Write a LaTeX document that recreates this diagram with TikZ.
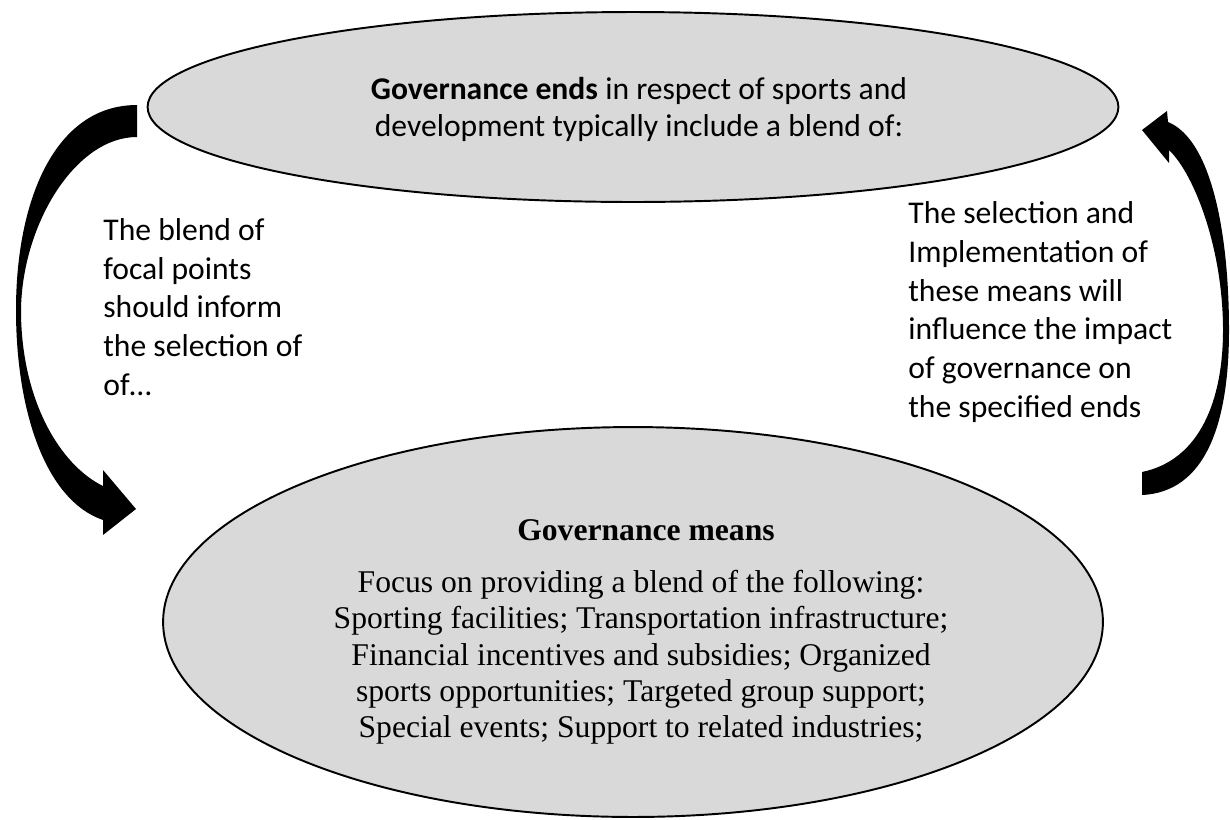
\documentclass[tikz,border=0pt]{standalone}
\usepackage{fontspec}
\setmainfont{Carlito}
\newfontfamily\serifblend{Liberation Serif}
\usepackage{tikz}
\usetikzlibrary{positioning}
\usetikzlibrary{shapes.geometric}

\definecolor{blobgray}{HTML}{D9D9D9}

\tikzset{
  blob/.style={ellipse, draw=black, fill=blobgray, line width=1.1pt, inner sep=0pt},
  note/.style={align=left, inner sep=0pt, font=\fontsize{18pt}{22pt}\selectfont},
  bigarrow/.style={fill=black, draw=none}
}

\begin{document}
\begin{tikzpicture}[x=0.02cm, y=-0.02cm]
  \useasboundingbox (0,0) rectangle (1230,819);

  \node[blob, minimum width=19.42cm, minimum height=3.8cm] (ends) at (633,107) {};
  \node[align=center, inner sep=0pt, font=\fontsize{18pt}{21pt}\selectfont] (endstext)
    at ([xshift=0.12cm, yshift=-0.04cm]ends.center)
    {\textbf{Governance ends} in respect of sports and\\development typically include a blend of:};

  \node[blob, minimum width=18.8cm, minimum height=7.8cm] (means) at (633,622) {};
  \node[align=center, inner sep=0pt, font=\serifblend\fontsize{18pt}{20.7pt}\selectfont] (meanstext)
    at ([xshift=0.16cm, yshift=-0.2cm]means.center)
    {\hspace*{0.2cm}\textbf{Governance means}\\[9pt]
     Focus on providing a blend of the following:\\
     Sporting facilities; Transportation infrastructure;\\
     Financial incentives and subsidies; Organized\\
     sports opportunities; Targeted group support;\\
     Special events; Support to related industries;};

  \node[note, anchor=base west] (blend) at (103,395)
    {The blend of\\focal points\\should inform\\the selection of\\of…};
  \node[note, anchor=base west] (impact) at (908,417)
    {The selection and\\Implementation of\\these means will\\influence the impact\\of governance on\\the specified ends};

  % ends -> means, down the left side
  \fill[bigarrow] (137,105) -- (137,137)
    .. controls (75,137) and (22,225) .. (21,310)
    .. controls (21,400) and (60,465) .. (103,486)
    -- (103,470) -- (136,509) -- (103,535) -- (103,520)
    .. controls (45,500) and (16,410) .. (16,310)
    .. controls (16,200) and (55,105) .. (137,105) -- cycle;

  % means -> ends, up the right side
  \fill[bigarrow] (1142,472)
    .. controls (1200,460) and (1223,400) .. (1223,330)
    .. controls (1223,250) and (1195,175) .. (1169,150)
    -- (1169,163) -- (1142,130) -- (1167,111) -- (1168,122)
    .. controls (1212,140) and (1229,235) .. (1229,330)
    .. controls (1229,425) and (1205,492) .. (1142,495) -- cycle;
\end{tikzpicture}
\end{document}
